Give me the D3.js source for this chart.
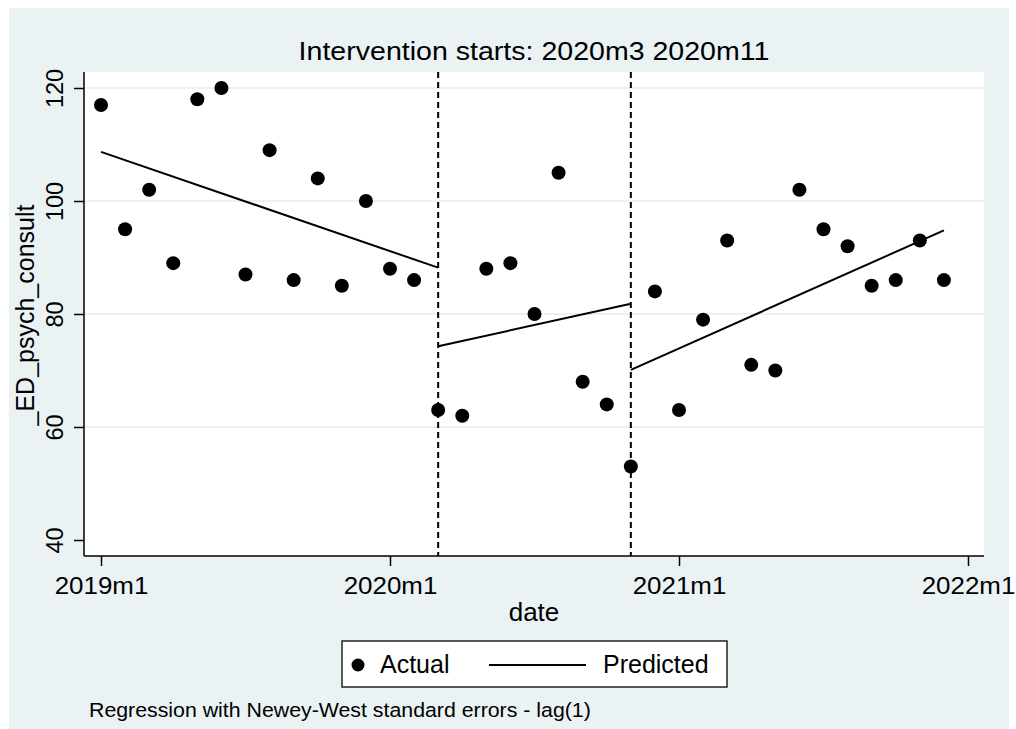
<!DOCTYPE html>
<html>
<head>
<meta charset="utf-8">
<script src="https://cdn.jsdelivr.net/npm/d3@7"></script>
<style>
  html, body { margin: 0; padding: 0; background: #ffffff; }
  svg { display: block; }
  text { font-family: "Liberation Sans", Arial, Helvetica, sans-serif; fill: #000; }
</style>
</head>
<body>
<svg id="chart" width="1016" height="729"></svg>
<script>
// ---------- DATA ----------
// month index 0 = 2019m1 ... 35 = 2021m12
const months = d3.range(0, 36);
const actual = [117, 95, 102, 89, 118, 120, 87, 109, 86, 104, 85, 100,
                88, 86, 63, 62, 88, 89, 80, 105, 68, 64, 53, 84,
                63, 79, 93, 71, 70, 102, 95, 92, 85, 86, 93, 86];
// predicted segments: [month index, value]
const predPre   = [[0, 108.7], [14, 88.2]];
const predMid   = [[14, 74.3], [22, 81.8]];
const predPost  = [[22, 70.1], [35, 94.8]];
const interventions = [14, 22];        // 2020m3, 2020m11
const xTickValues = [0, 12, 24, 36];
const xTickLabels = ["2019m1", "2020m1", "2021m1", "2022m1"];
const yTickValues = [40, 60, 80, 100, 120];
const yGridValues = [60, 80, 100, 120];
const titleText = "Intervention starts: 2020m3 2020m11";
const xTitle = "date";
const yTitle = "_ED_psych_consult";
const legendLabels = ["Actual", "Predicted"];
const noteText = "Regression with Newey-West standard errors - lag(1)";

// ---------- LAYOUT ----------
const svg = d3.select("#chart");
const bg = "#eaf2f3";
const plot = { left: 84, right: 984, top: 72, bottom: 556 };

svg.append("rect").attr("x", 9).attr("y", 8).attr("width", 1000).attr("height", 721).attr("fill", bg);
svg.append("rect").attr("x", plot.left).attr("y", plot.top)
   .attr("width", plot.right - plot.left).attr("height", plot.bottom - plot.top).attr("fill", "#fff");

const x = d3.scaleLinear().domain([0, 36]).range([101, 968]);
const y = d3.scaleLinear().domain([40, 120]).range([540, 88]);

// grid
svg.append("g").selectAll("line").data(yGridValues).join("line")
  .attr("x1", plot.left).attr("x2", plot.right)
  .attr("y1", d => y(d)).attr("y2", d => y(d))
  .attr("stroke", "#e6eef0").attr("stroke-width", 1.6);

// intervention lines
svg.append("g").selectAll("line").data(interventions).join("line")
  .attr("x1", d => x(d)).attr("x2", d => x(d))
  .attr("y1", plot.top).attr("y2", plot.bottom)
  .attr("stroke", "#000").attr("stroke-width", 2).attr("stroke-dasharray", "6,4");

// predicted lines
const line = d3.line().x(d => x(d[0])).y(d => y(d[1]));
[predPre, predMid, predPost].forEach(seg => {
  svg.append("path").datum(seg).attr("d", line)
    .attr("fill", "none").attr("stroke", "#000").attr("stroke-width", 2);
});

// actual points
svg.append("g").selectAll("circle").data(months).join("circle")
  .attr("cx", d => x(d)).attr("cy", d => y(actual[d])).attr("r", 7).attr("fill", "#000");

// axes
const xAxis = d3.axisBottom(x).tickValues(xTickValues).tickSize(10)
  .tickFormat((d, i) => xTickLabels[i]);
const gx = svg.append("g").attr("transform", `translate(0,${plot.bottom})`).call(xAxis);
gx.select(".domain").remove();
gx.selectAll(".tick line").attr("stroke", "#000").attr("stroke-width", 1.5);
gx.selectAll(".tick text").attr("y", 0).attr("dy", null)
  .attr("transform", "translate(0,38) scale(1.08,1)")
  .style("font-size", "24px").attr("fill", "#000");

const yAxis = d3.axisLeft(y).tickValues(yTickValues).tickSize(10);
const gy = svg.append("g").attr("transform", `translate(${plot.left},0)`).call(yAxis);
gy.select(".domain").remove();
gy.selectAll(".tick line").attr("stroke", "#000").attr("stroke-width", 1.5);
gy.selectAll(".tick text").attr("x", null).attr("dy", null).attr("y", 0)
  .attr("transform", "translate(-21,0) rotate(-90)")
  .attr("text-anchor", "middle")
  .style("font-size", "23.5px").attr("fill", "#000");

// axis lines
svg.append("line").attr("x1", plot.left).attr("x2", plot.left).attr("y1", plot.top).attr("y2", plot.bottom)
  .attr("stroke", "#000").attr("stroke-width", 1.5);
svg.append("line").attr("x1", plot.left).attr("x2", plot.right).attr("y1", plot.bottom).attr("y2", plot.bottom)
  .attr("stroke", "#000").attr("stroke-width", 1.5);

// title
svg.append("text").attr("transform", "translate(534,60) scale(1.12,1)")
  .attr("text-anchor", "middle").style("font-size", "25.5px").text(titleText);

// axis titles
svg.append("text").attr("transform", "translate(534,621) scale(1.04,1)")
  .attr("text-anchor", "middle").style("font-size", "25px").text(xTitle);
svg.append("text").attr("transform", "translate(34,315) rotate(-90)")
  .attr("text-anchor", "middle").style("font-size", "25px").text(yTitle);

// legend
const lg = svg.append("g");
lg.append("rect").attr("x", 342).attr("y", 641).attr("width", 385).attr("height", 46)
  .attr("fill", "#fff").attr("stroke", "#222").attr("stroke-width", 1.5);
lg.append("circle").attr("cx", 358).attr("cy", 665).attr("r", 6.5).attr("fill", "#000");
lg.append("text").attr("x", 380).attr("y", 673).style("font-size", "25px").text(legendLabels[0]);
lg.append("line").attr("x1", 489).attr("x2", 586).attr("y1", 665).attr("y2", 665)
  .attr("stroke", "#000").attr("stroke-width", 2);
lg.append("text").attr("x", 603).attr("y", 673).style("font-size", "25px").text(legendLabels[1]);

// note
svg.append("text").attr("transform", "translate(89,717) scale(1.04,1)")
  .style("font-size", "20.5px").text(noteText);
</script>
</body>
</html>
